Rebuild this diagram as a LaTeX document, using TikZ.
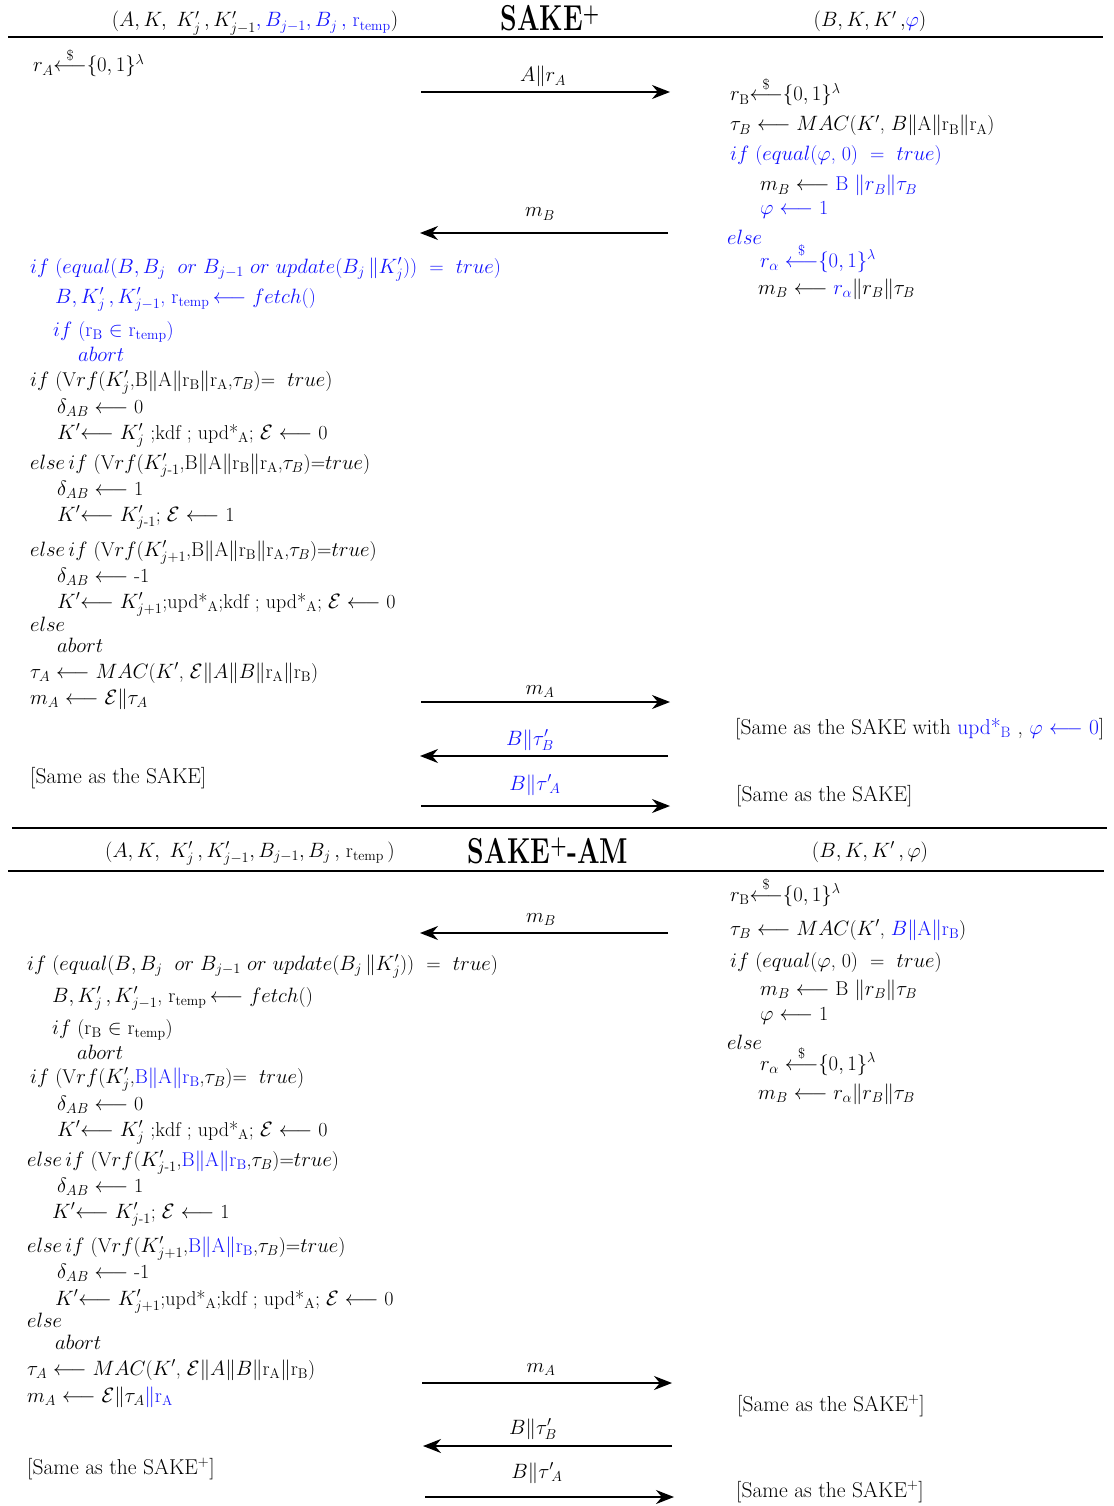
\documentclass[tikz,border=0pt]{standalone}
\usepackage{amsmath}
\usepackage{fontspec}
\usepackage{graphicx}
\usetikzlibrary{arrows.meta}
\definecolor{bl}{RGB}{20,20,255}
\newcommand{\blu}[1]{\textcolor{bl}{#1}}
\newcommand{\kw}[1]{\ensuremath{#1}}
\newcommand{\lar}{\ensuremath{\longleftarrow}}
\newcommand{\rnd}{\ensuremath{{\overset{\$}{\longleftarrow}}}}
\newcommand{\rB}{r\ensuremath{_{\mathrm{B}}}}
\newcommand{\rA}{r\ensuremath{_{\mathrm{A}}}}
\newcommand{\rtemp}{r\ensuremath{_{\mathrm{temp}}}}
\newcommand{\updA}{upd*\ensuremath{_{\mathrm{A}}}}
\newcommand{\updB}{upd*\ensuremath{_{\mathrm{B}}}}
\newcommand{\eqq}{\ \ =\ \ }
\newcommand{\fs}{\fontsize{20}{24}\selectfont}
\newcommand{\fsb}{\fontsize{21.5}{26}\selectfont}
\newcommand{\ttl}[1]{\scalebox{0.74}[1]{\fontsize{36}{40}\selectfont\bfseries #1}}
\tikzset{
  ln/.style={anchor=base west, inner sep=0pt, font=\fs},
  same/.style={anchor=base west, inner sep=0pt, font=\fsb},
  hd/.style={anchor=base, inner sep=0pt, font=\fs},
  msg/.style={line width=1.5pt, -{Stealth[length=18pt,width=14pt]}},
  sep/.style={line width=1.3pt}
}
\begin{document}
\begin{tikzpicture}[x=1pt,y=-1pt]
\useasboundingbox (0,0) rectangle (1113,1506);
% ---------------- SAKE+ ----------------
\node[hd] (h1l) at (255,27) {$(A, K,\ K'_j\,, K'_{j-1}$\blu{$, B_{j-1}, B_j\,,$ \rtemp}$)$};
\node[hd] (h1t) at (550,31) {\ttl{SAKE\textsuperscript{+}}};
\node[hd] (h1r) at (870,27) {$(B, K, K'\,,$\blu{$\varphi$}$)$};
\coordinate (s1a) at (8,37); \coordinate (s1b) at (1103,37);
\draw[sep] (s1a) -- (s1b);

\node[ln] (a01) at (33,72) {$r_A\rnd\{0,1\}^{\lambda}$};

\node[ln] (b01) at (730,101) {$r_{\mathrm{B}}\rnd\{0,1\}^{\lambda}$};
\node[ln] (b02) at (730,131) {$\tau_B$ \lar\ \kw{MAC}($K'$, $B\|$A$\|$\rB$\|$\rA)};
\node[ln] (b03) at (730,161) {\blu{\kw{if} (\kw{equal}($\varphi$, 0)\eqq\kw{true})}};
\node[ln] (b04) at (760,191) {$m_B$ \lar\ \blu{B $\|r_B\|\tau_B$}};
\node[ln] (b05) at (760,215) {\blu{$\varphi$ \lar\ 1}};
\node[ln] (b06) at (727,244) {\blu{\kw{else}}};
\node[ln] (b07) at (760,267) {\blu{$r_\alpha$ \rnd$\{0,1\}^{\lambda}$}};
\node[ln] (b08) at (758,294) {$m_B$ \lar\ \blu{$r_\alpha$}$\|r_B\|\tau_B$};

\node[ln] (a02) at (30,273) {\blu{\kw{if} (\kw{equal}($B, B_j$ \ \kw{or} $B_{j-1}$ \kw{or} \kw{update}($B_j\,\|K'_j$))\eqq\kw{true})}};
\node[ln] (a03) at (55,303) {\blu{$B, K'_j\,, K'_{j-1}$, \rtemp\,\lar\ \kw{fetch}()}};
\node[ln] (a04) at (53,336) {\blu{\kw{if} (\rB\ $\in$ \rtemp)}};
\node[ln] (a05) at (78,361) {\blu{\kw{abort}}};
\node[ln] (a06) at (30,386) {\kw{if} (V\kw{rf}($K'_j$,B$\|$A$\|$\rB$\|$\rA,$\tau_B$)= \ \kw{true})};
\node[ln] (a07) at (57,413) {$\delta_{AB}$ \lar\ 0};
\node[ln] (a08) at (57,439) {$K'$\lar\ $K'_j$ ;kdf ; \updA; $\mathcal{E}$ \lar\ 0};
\node[ln] (a09) at (30,469) {\kw{else\,if} (V\kw{rf}($K'_{j\text{-}1}$,B$\|$A$\|$\rB$\|$\rA,$\tau_B$)=\kw{true})};
\node[ln] (a10) at (57,495) {$\delta_{AB}$ \lar\ 1};
\node[ln] (a11) at (57,521) {$K'$\lar\ $K'_{j\text{-}1}$; $\mathcal{E}$ \lar\ 1};
\node[ln] (a12) at (30,556) {\kw{else\,if} (V\kw{rf}($K'_{j+1}$,B$\|$A$\|$\rB$\|$\rA,$\tau_B$)=\kw{true})};
\node[ln] (a13) at (57,582) {$\delta_{AB}$ \lar\ -1};
\node[ln] (a14) at (57,608) {$K'$\lar\ $K'_{j+1}$;\updA;kdf ; \updA; $\mathcal{E}$ \lar\ 0};
\node[ln] (a15) at (30,631) {\kw{else}};
\node[ln] (a16) at (57,652) {\kw{abort}};
\node[ln] (a17) at (30,678) {$\tau_A$ \lar\ \kw{MAC}($K'$, $\mathcal{E}\|A\|B\|$\rA$\|$\rB)};
\node[ln] (a18) at (30,704) {$m_A$ \lar\ $\mathcal{E}\|\tau_A$};

\node[same] (b09) at (735,734) {[Same as the SAKE with \blu{\updB} , \blu{$\varphi$ \lar\ 0}]};
\node[same] (a19) at (30,783) {[Same as the SAKE]};
\node[same] (b10) at (736,801) {[Same as the SAKE]};

% arrows section 1
\coordinate (m1s) at (421,92);  \coordinate (m1e) at (670,92);
\coordinate (m2s) at (668,233); \coordinate (m2e) at (420,233);
\coordinate (m3s) at (421,702); \coordinate (m3e) at (670,702);
\coordinate (m4s) at (668,756); \coordinate (m4e) at (420,756);
\coordinate (m5s) at (421,806); \coordinate (m5e) at (670,806);
\draw[msg] (m1s) -- (m1e);
\draw[msg] (m2s) -- (m2e);
\draw[msg] (m3s) -- (m3e);
\draw[msg] (m4s) -- (m4e);
\draw[msg] (m5s) -- (m5e);
\node[hd] (l1) at (543,82) {$A\|r_A$};
\node[hd] (l2) at (540,217) {$m_B$};
\node[hd] (l3) at (540,694) {$m_A$};
\node[hd] (l4) at (530,745) {\blu{$B\|\tau'_B$}};
\node[hd] (l5) at (535,790) {\blu{$B\|{\tau'}_{\!A}$}};

% ---------------- SAKE+-AM ----------------
\coordinate (s2a) at (12,828); \coordinate (s2b) at (1107,828);
\coordinate (s3a) at (8,871); \coordinate (s3b) at (1104,871);
\draw[sep] (s2a) -- (s2b);
\draw[sep] (s3a) -- (s3b);
\node[hd] (h2l) at (250,857) {$(A, K,\ K'_j\,, K'_{j-1}, B_{j-1}, B_j\,,$ \rtemp$\,)$};
\node[hd] (h2t) at (548,863) {\ttl{SAKE\textsuperscript{+}-AM}};
\node[hd] (h2r) at (870,857) {$(B, K, K'\,,\varphi)$};

\node[ln] (d01) at (730,901) {$r_{\mathrm{B}}\rnd\{0,1\}^{\lambda}$};
\node[ln] (d02) at (730,935) {$\tau_B$ \lar\ \kw{MAC}($K'$, \blu{$B\|$A$\|$\rB})};
\node[ln] (d03) at (730,967) {\kw{if} (\kw{equal}($\varphi$, 0)\eqq\kw{true})};
\node[ln] (d04) at (760,995) {$m_B$ \lar\ B $\|r_B\|\tau_B$};
\node[ln] (d05) at (760,1020) {$\varphi$ \lar\ 1};
\node[ln] (d06) at (727,1049) {\kw{else}};
\node[ln] (d07) at (760,1070) {$r_\alpha$ \rnd$\{0,1\}^{\lambda}$};
\node[ln] (d08) at (758,1099) {$m_B$ \lar\ $r_\alpha\|r_B\|\tau_B$};

\node[ln] (c01) at (27,970) {\kw{if} (\kw{equal}($B, B_j$ \ \kw{or} $B_{j-1}$ \kw{or} \kw{update}($B_j\,\|K'_j$))\eqq\kw{true})};
\node[ln] (c02) at (52,1002) {$B, K'_j\,, K'_{j-1}$, \rtemp\,\lar\ \kw{fetch}()};
\node[ln] (c03) at (52,1034) {\kw{if} (\rB\ $\in$ \rtemp)};
\node[ln] (c04) at (77,1059) {\kw{abort}};
\node[ln] (c05) at (30,1083) {\kw{if} (V\kw{rf}($K'_j$,\blu{B$\|$A$\|$\rB},$\tau_B$)= \ \kw{true})};
\node[ln] (c06) at (57,1110) {$\delta_{AB}$ \lar\ 0};
\node[ln] (c07) at (57,1136) {$K'$\lar\ $K'_j$ ;kdf ; \updA; $\mathcal{E}$ \lar\ 0};
\node[ln] (c08) at (27,1166) {\kw{else\,if} (V\kw{rf}($K'_{j\text{-}1}$,\blu{B$\|$A$\|$\rB},$\tau_B$)=\kw{true})};
\node[ln] (c09) at (57,1192) {$\delta_{AB}$ \lar\ 1};
\node[ln] (c10) at (52,1218) {$K'$\lar\ $K'_{j\text{-}1}$; $\mathcal{E}$ \lar\ 1};
\node[ln] (c11) at (27,1252) {\kw{else\,if} (V\kw{rf}($K'_{j+1}$,\blu{B$\|$A$\|$\rB},$\tau_B$)=\kw{true})};
\node[ln] (c12) at (57,1278) {$\delta_{AB}$ \lar\ -1};
\node[ln] (c13) at (55,1305) {$K'$\lar\ $K'_{j+1}$;\updA;kdf ; \updA; $\mathcal{E}$ \lar\ 0};
\node[ln] (c14) at (27,1327) {\kw{else}};
\node[ln] (c15) at (55,1349) {\kw{abort}};
\node[ln] (c16) at (27,1375) {$\tau_A$ \lar\ \kw{MAC}($K'$, $\mathcal{E}\|A\|B\|$\rA$\|$\rB)};
\node[ln] (c17) at (27,1402) {$m_A$ \lar\ $\mathcal{E}\|\tau_A$\blu{$\|$\rA}};

\node[same] (d09) at (737,1411) {[Same as the SAKE\textsuperscript{+}]};
\node[same] (c18) at (27,1474) {[Same as the SAKE\textsuperscript{+}]};
\node[same] (d10) at (736,1497) {[Same as the SAKE\textsuperscript{+}]};

% arrows section 2
\coordinate (n1s) at (668,933);  \coordinate (n1e) at (420,933);
\coordinate (n2s) at (422,1383); \coordinate (n2e) at (672,1383);
\coordinate (n3s) at (672,1446); \coordinate (n3e) at (423,1446);
\coordinate (n4s) at (425,1497); \coordinate (n4e) at (674,1497);
\draw[msg] (n1s) -- (n1e);
\draw[msg] (n2s) -- (n2e);
\draw[msg] (n3s) -- (n3e);
\draw[msg] (n4s) -- (n4e);
\node[hd] (k1) at (541,922) {$m_B$};
\node[hd] (k2) at (541,1372) {$m_A$};
\node[hd] (k3) at (533,1434) {$B\|\tau'_B$};
\node[hd] (k4) at (537,1478) {$B\|{\tau'}_{\!A}$};
\end{tikzpicture}
\end{document}
